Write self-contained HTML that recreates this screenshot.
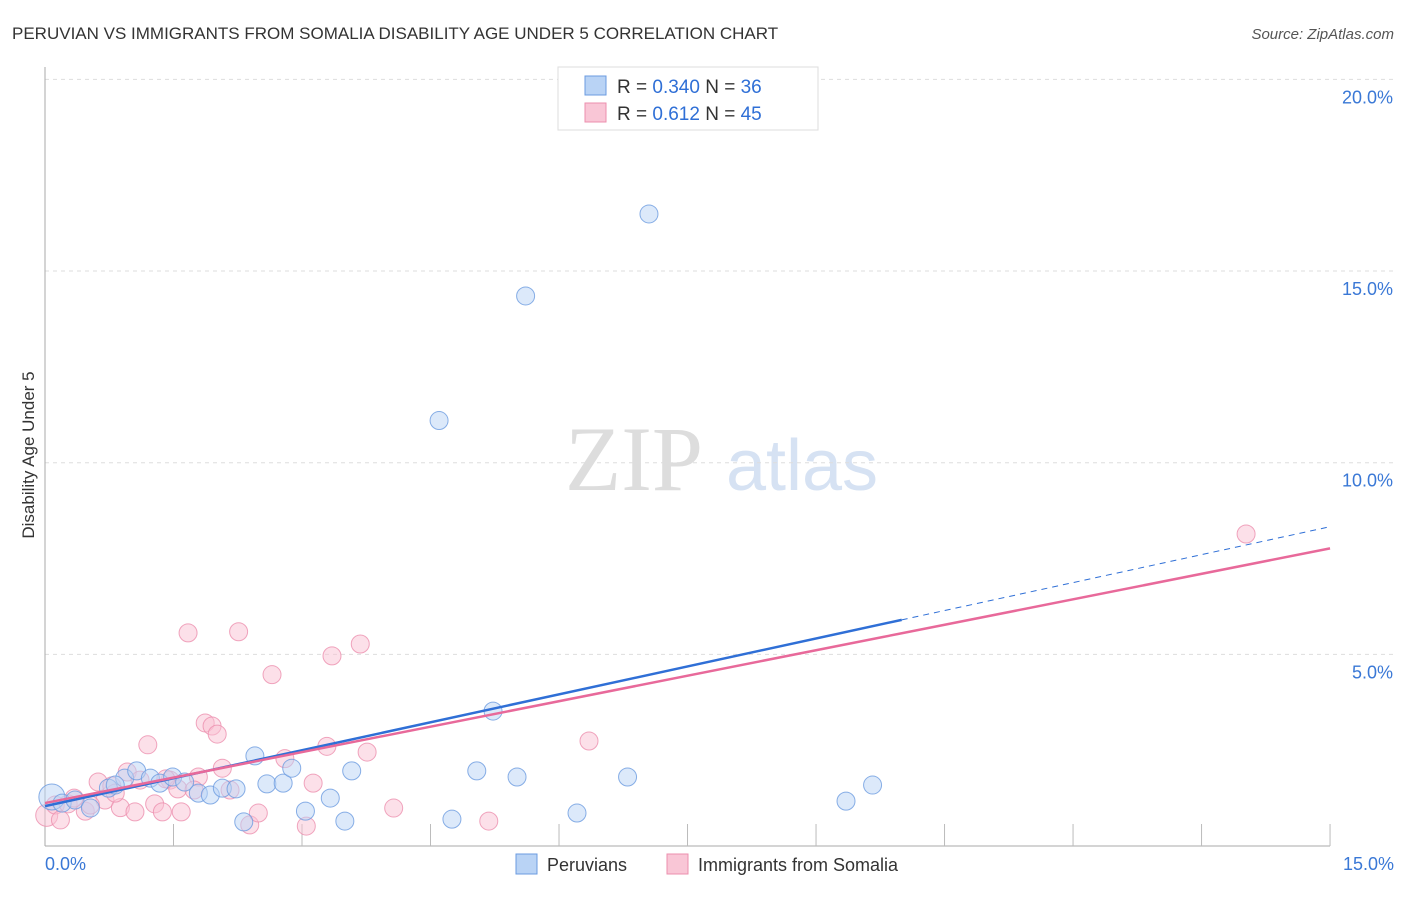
<!DOCTYPE html>
<html><head><meta charset="utf-8"><style>
body{margin:0;background:#fff;font-family:"Liberation Sans",sans-serif;}
</style></head><body>
<svg width="1406" height="892" id="chart" xmlns="http://www.w3.org/2000/svg" font-family="Liberation Sans, sans-serif">
<text x="12" y="39" font-size="17" fill="#333">PERUVIAN VS IMMIGRANTS FROM SOMALIA DISABILITY AGE UNDER 5 CORRELATION CHART</text>
<text x="1394" y="39" font-size="15" fill="#555" font-style="italic" text-anchor="end">Source: ZipAtlas.com</text>
<g>
<text x="634" y="490" font-size="92" fill="#ddd" font-family="Liberation Serif, serif" text-anchor="middle">ZIP</text>
<text x="802" y="490" font-size="72" fill="#d6e2f3" text-anchor="middle">atlas</text>
</g>
<g id="grid"></g>
<g id="axes"></g>
<g id="pts"></g>
<g id="trend"></g>
<text transform="translate(34,455) rotate(-90)" font-size="17" fill="#333" text-anchor="middle">Disability Age Under 5</text>
<g>
<rect x="558" y="67" width="260" height="63" fill="#fff" stroke="#ddd"/>
<rect x="585" y="76" width="21" height="19" fill="#b9d3f5" stroke="#6b9be0"/>
<rect x="585" y="103" width="21" height="19" fill="#f9c6d6" stroke="#ec8fae"/>
<text x="617" y="93" font-size="19" fill="#333">R = <tspan fill="#2f6fd6">0.340</tspan>    N = <tspan fill="#2f6fd6">36</tspan></text>
<text x="617" y="120" font-size="19" fill="#333">R =  <tspan fill="#2f6fd6">0.612</tspan>    N = <tspan fill="#2f6fd6">45</tspan></text>
</g>
<g>
<rect x="516" y="854" width="21" height="20" fill="#b9d3f5" stroke="#6b9be0"/>
<text x="547" y="871" font-size="18" fill="#333">Peruvians</text>
<rect x="667" y="854" width="21" height="20" fill="#f9c6d6" stroke="#ec8fae"/>
<text x="698" y="871" font-size="18" fill="#333">Immigrants from Somalia</text>
</g>
</svg>
<script>
const blueX=[0.08,0.2,0.35,0.53,0.74,0.93,1.07,1.23,1.34,1.49,1.63,1.79,1.93,2.07,2.23,2.32,2.45,2.59,2.78,2.88,3.04,3.33,3.5,3.58,4.6,4.75,5.04,5.23,5.51,5.61,6.21,6.8,7.05,9.35,9.66,0.82];
const blueY=[1.28,1.12,1.2,0.99,1.51,1.77,1.96,1.77,1.64,1.8,1.67,1.38,1.33,1.51,1.49,0.63,2.35,1.62,1.64,2.03,0.91,1.25,0.65,1.96,11.1,0.7,1.96,3.52,1.8,14.35,0.86,1.8,16.49,1.17,1.59,1.59];
const pinkX=[0.02,0.12,0.27,0.47,0.62,0.7,0.78,0.88,0.96,1.05,1.2,1.28,1.37,1.46,1.55,1.59,1.67,1.79,1.87,1.95,2.01,2.07,2.26,2.39,2.49,2.65,2.8,3.05,3.13,3.29,3.35,3.68,3.76,4.07,5.18,6.35,14.02,0.18,0.53,1.11,1.74,2.16,0.82,0.34,1.41];
const pinkY=[0.8,1.07,1.1,0.91,1.67,1.2,1.57,1.0,1.93,0.89,2.64,1.1,0.89,1.72,1.49,0.89,5.56,1.8,3.21,3.13,2.92,2.03,5.59,0.55,0.86,4.47,2.28,0.52,1.64,2.6,4.96,5.27,2.45,0.99,0.65,2.74,8.14,0.68,1.07,1.72,1.46,1.46,1.38,1.25,1.75];
const yTicks=[5,10,15,20];
const xTickLabels=["0.0%","15.0%"];
const blueTrend=[1.04,0.486];
const pinkTrend=[1.12,0.443];
const NS="http://www.w3.org/2000/svg";
const X=v=>45+v*85.67, Y=v=>846-v*38.33;
function mk(t,a,p){const e=document.createElementNS(NS,t);for(const k in a)e.setAttribute(k,a[k]);document.getElementById(p).appendChild(e);return e;}
yTicks.forEach(t=>{
 const l=mk('line',{x1:45,x2:1394,y1:Y(t),y2:Y(t),stroke:'#ddd','stroke-dasharray':'4,4'},'grid');
 
 
 const tx=mk('text',{x:1393,y:Y(t)+24,'font-size':18,fill:'#3a78d6','text-anchor':'end'},'grid');
 tx.textContent=t.toFixed(1)+'%';
 
 
});
const ax=mk('line',{x1:45,x2:45,y1:67,y2:846,stroke:'#aaa'},'axes');


const bx=mk('line',{x1:45,x2:1330,y1:846,y2:846,stroke:'#aaa'},'axes');


for(let i=1;i<=10;i++){
 const tk=mk('line',{x1:X(i*1.5),x2:X(i*1.5),y1:846,y2:824,stroke:'#bbb'},'axes');
 
 
}
[[0,'start',45],[15,'end',1394]].forEach((d,i)=>{
 const t=mk('text',{x:d[2],y:870,'font-size':18,fill:'#3a78d6','text-anchor':d[1]},'axes');
 t.textContent=xTickLabels[i];
 
 
});
function pts(xs,ys,fill,stroke,name){
 xs.forEach((x,i)=>{
  const r=i===0?(name==='blue-point'?13:11):9;
  const c=mk('circle',{cx:X(x),cy:Y(ys[i]),r:r,fill:fill,'fill-opacity':0.5,stroke:stroke,'stroke-opacity':0.8},'pts');
  
  
 });
}
pts(pinkX,pinkY,'#f9c2d3','#ec8fae','pink-point');
pts(blueX,blueY,'#b9d3f5','#6b9be0','blue-point');
const bt=mk('line',{x1:X(0),y1:Y(blueTrend[0]),x2:X(10),y2:Y(blueTrend[0]+10*blueTrend[1]),stroke:'#2f6fd6','stroke-width':2.5},'trend');


const bd=mk('line',{x1:X(10),y1:Y(blueTrend[0]+10*blueTrend[1]),x2:X(15),y2:Y(blueTrend[0]+15*blueTrend[1]),stroke:'#2f6fd6','stroke-width':1,'stroke-dasharray':'6,5'},'trend');


const pt=mk('line',{x1:X(0),y1:Y(pinkTrend[0]),x2:X(15),y2:Y(pinkTrend[0]+15*pinkTrend[1]),stroke:'#e8699a','stroke-width':2.5},'trend');


</script>
</body></html>
